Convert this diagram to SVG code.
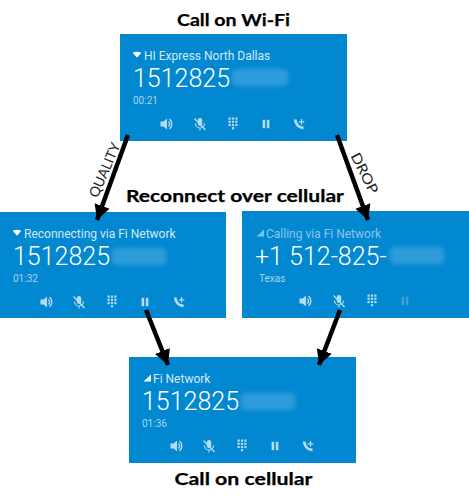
<svg xmlns="http://www.w3.org/2000/svg" xmlns:xlink="http://www.w3.org/1999/xlink" width="469" height="500" viewBox="0 0 469 500">
<style>
.card{fill:#0288d1}
.hd{font:400 12px Roboto,sans-serif;fill:#d3e9f6}
.num{font:300 25px Roboto,sans-serif;fill:#fff}
.sub{font:400 10px Roboto,sans-serif;fill:#a9d5ee}
.title{font:700 17.5px Lato,sans-serif;fill:#000;stroke:#000;stroke-width:.25}
.lab{font:400 14px Lato,sans-serif;fill:#222}
.ic{fill:#b5dbf1}
.ics{stroke:#b5dbf1;fill:none}
.blur{fill:#2f9cdb}
.conn{stroke:#000;stroke-width:4.500;fill:none;marker-end:url(#ah)}
</style>
<defs>
<marker id="ah" markerUnits="userSpaceOnUse" markerWidth="18" markerHeight="18" refX="15" refY="8" orient="auto"><path d="M0 0L15 8L0 16z" fill="#000"/></marker>
<filter id="bl" x="-30%" y="-50%" width="160%" height="200%"><feGaussianBlur stdDeviation="2.200"/></filter>
<g id="spk"><path class="ic" d="M-5.500-2.500h3l3.500-3v11l-3.500-3h-3z"/><path class="ics" stroke-width="1.400" d="M2.500-2.500a3.500 3.500 0 0 1 0 5M3.500-5a6.500 6.500 0 0 1 0 10"/></g>
<g id="mic"><rect class="ic" x="-2.200" y="-6" width="4.400" height="8" rx="2.200"/><path class="ics" stroke-width="1.200" d="M-4.500-.5a4.500 4.500 0 0 0 9 0M0 4v2.500"/><path class="ics" stroke-width="1.400" d="M-5.500-5.500L5.500 6"/></g>
<g id="key" class="ic"><rect x="-4.500" y="-5.500" width="2.200" height="2.200"/><rect x="-1.100" y="-5.500" width="2.200" height="2.200"/><rect x="2.300" y="-5.500" width="2.200" height="2.200"/><rect x="-4.500" y="-2.300" width="2.200" height="2.200"/><rect x="-1.100" y="-2.300" width="2.200" height="2.200"/><rect x="2.300" y="-2.300" width="2.200" height="2.200"/><rect x="-4.500" y=".9" width="2.200" height="2.200"/><rect x="-1.100" y=".9" width="2.200" height="2.200"/><rect x="2.300" y=".9" width="2.200" height="2.200"/><rect x="-1.100" y="4.100" width="2.200" height="2.200"/></g>
<g id="pau" class="ic"><rect x="-3.400" y="-4.200" width="2.600" height="8.400"/><rect x=".8" y="-4.200" width="2.600" height="8.400"/></g>
<g id="add"><path class="ics" stroke-width="2.800" d="M-3.800-4.500C-3.500 0-.5 3.500 4.500 4"/><path class="ics" stroke-width="1.300" d="M2.500-5v5.500M-.2-2.200h5.500"/></g>
<path id="wifi" d="M-4.300-2.200Q0-4.400 4.300-2.200L0 2.800z" fill="#fff"/>
<path id="sig" d="M4-3.500V3.500H-3.500z"/>
</defs>

<text class="title" x="233.500" y="25.500" text-anchor="middle" textLength="113" lengthAdjust="spacingAndGlyphs" id="t1">Call on Wi-Fi</text>

<g id="card-wifi">
<rect class="card" x="120" y="34" width="227" height="107"/>
<rect class="blur" x="232" y="69" width="56" height="17" rx="5" filter="url(#bl)"/>
<use xlink:href="#wifi" x="137" y="55"/>
<text class="hd" x="144" y="60">HI Express North Dallas</text>
<text class="num" x="133" y="87">1512825</text>
<text class="sub" x="133" y="104">00:21</text>
<use xlink:href="#spk" x="166" y="124"/><use xlink:href="#mic" x="200" y="124"/><use xlink:href="#key" x="233" y="123"/><use xlink:href="#pau" x="266" y="124"/><use xlink:href="#add" x="299" y="124"/>
</g>

<g id="card-reconnecting">
<rect class="card" x="0" y="212" width="226" height="106"/>
<rect class="blur" x="112" y="248" width="54" height="17" rx="5" filter="url(#bl)"/>
<use xlink:href="#wifi" x="17" y="233"/>
<text class="hd" x="24" y="238">Reconnecting via Fi Network</text>
<text class="num" x="13" y="265">1512825</text>
<text class="sub" x="13" y="282">01:32</text>
<use xlink:href="#spk" x="46" y="302"/><use xlink:href="#mic" x="79" y="302"/><use xlink:href="#key" x="112" y="301"/><use xlink:href="#pau" x="145" y="302"/><use xlink:href="#add" x="179" y="302"/>
</g>

<g id="card-calling">
<rect class="card" x="242" y="211" width="227" height="107"/>
<rect class="blur" x="390" y="247" width="54" height="17" rx="5" filter="url(#bl)"/>
<use xlink:href="#sig" x="260" y="233" fill="#7fc0e6"/>
<text class="hd" x="266" y="238" style="fill:#8cc7e8">Calling via Fi Network</text>
<text class="num" x="255" y="265">+1 512-825-</text>
<text class="sub" x="259" y="282">Texas</text>
<use xlink:href="#spk" x="305" y="301"/><use xlink:href="#mic" x="339" y="301"/><use xlink:href="#key" x="372" y="300"/><use xlink:href="#pau" x="405" y="301" opacity=".3"/>
</g>

<g id="card-cellular">
<rect class="card" x="129" y="357" width="227" height="106"/>
<rect class="blur" x="241" y="393" width="54" height="17" rx="5" filter="url(#bl)"/>
<use xlink:href="#sig" x="147" y="378" fill="#fff"/>
<text class="hd" x="153" y="383">Fi Network</text>
<text class="num" x="142" y="410">1512825</text>
<text class="sub" x="142" y="427">01:36</text>
<use xlink:href="#spk" x="176" y="446"/><use xlink:href="#mic" x="209" y="446"/><use xlink:href="#key" x="242" y="445"/><use xlink:href="#pau" x="275" y="446"/><use xlink:href="#add" x="308" y="446"/>
</g>

<text class="title" x="235" y="202" text-anchor="middle" textLength="218" lengthAdjust="spacingAndGlyphs" id="t2">Reconnect over cellular</text>
<text class="title" x="243.500" y="485" text-anchor="middle" textLength="138" lengthAdjust="spacingAndGlyphs" id="t3">Call on cellular</text>
<text class="lab" transform="translate(97.600 198.600) rotate(-66.600)" textLength="58" lengthAdjust="spacingAndGlyphs">QUALITY</text>
<text class="lab" transform="translate(350.300 155.700) rotate(63.400)" textLength="44" lengthAdjust="spacingAndGlyphs">DROP</text>

<g id="connectors">
<path class="conn" d="M128 135L97 220"/>
<path class="conn" d="M337 135L368 220"/>
<path class="conn" d="M146 310L168 365"/>
<path class="conn" d="M340 310L319 365"/>
</g>
</svg>
